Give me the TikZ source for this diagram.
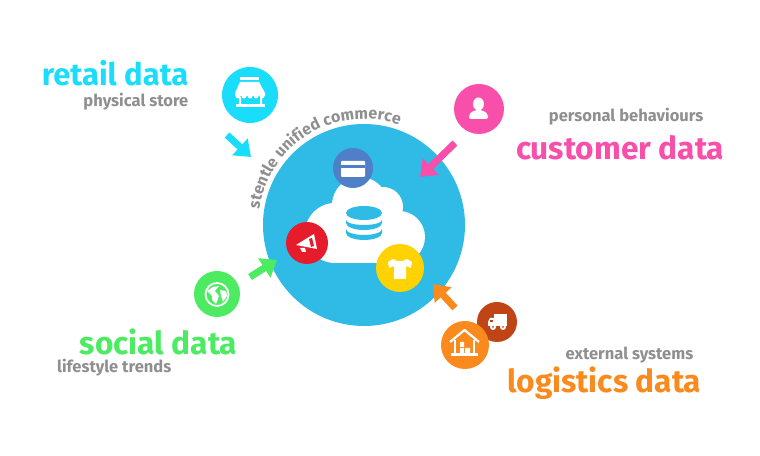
\documentclass[tikz,border=0pt]{standalone}
\usepackage{fontspec}
\setmainfont{Fira Sans}
\usetikzlibrary{arrows.meta, decorations.text}
\definecolor{hubblue}{HTML}{2FBBE6}
\definecolor{retailcyan}{HTML}{1ADDFB}
\definecolor{custpink}{HTML}{F84FAB}
\definecolor{socialgreen}{HTML}{4CEB62}
\definecolor{logiorange}{HTML}{FA8A1E}
\definecolor{truckbrown}{HTML}{BF4516}
\definecolor{cardblue}{HTML}{4F7FC6}
\definecolor{megared}{HTML}{E61B2B}
\definecolor{shirtyellow}{HTML}{FFD200}
\definecolor{labelgray}{HTML}{8F8F8F}
\tikzset{
disc/.style={circle, inner sep=0pt, minimum size=#1*0.01cm}, % round icon, size in reference pixels
bigtitle/.style={font=\fontsize{9}{10}\selectfont\bfseries, inner sep=0pt}, % coloured headings
subtitle/.style={font=\fontsize{4.7}{5}\selectfont\bfseries, text=labelgray, inner sep=0pt}, % small gray lines
inflow/.style={-{Triangle[length=0.15cm, width=0.22cm]}, line width=0.07cm, draw=#1}, % fat arrows
}

\begin{document}
\begin{tikzpicture}[x=0.01cm, y=-0.01cm]
\useasboundingbox (0,0) rectangle (760,456);

\node[disc=202, fill=hubblue] at (364,225) (hub) {};

% cloud
\fill[white] (335,233) circle[radius=30] (360,205) circle[radius=28] (383,207) circle[radius=20] (399,237) circle[radius=26];
\fill[white] (335,222) rectangle (399,263);

% database
\fill[hubblue] (364,213) ellipse[x radius=18, y radius=7];
\fill[hubblue] (346,220) arc[start angle=180, end angle=0, x radius=18, y radius=5] -- (382,223) arc[start angle=0, end angle=180, x radius=18, y radius=7] -- cycle;
\fill[hubblue] (346,229) arc[start angle=180, end angle=0, x radius=18, y radius=6] -- (382,233) arc[start angle=0, end angle=180, x radius=18, y radius=7] -- cycle;

% curved label
\path[decorate, decoration={text along path, text align=center, text={|\fontsize{4.55}{5}\selectfont\bfseries\color{labelgray}|stentle unified commerce}}]
(364,225) ++(-171:106) arc[start angle=-171, end angle=-71, radius=106];

\node[disc=40, fill=cardblue] at (353,168) (card) {};
\node[disc=42, fill=megared] at (307,243) (mega) {};
\node[disc=48, fill=shirtyellow] at (400,268) (shirt) {};
\node[disc=56, fill=retailcyan] at (250,95) (store) {};
\node[disc=50, fill=custpink] at (479,109) (person) {};
\node[disc=46, fill=socialgreen] at (217,294) (globe) {};
\node[disc=40, fill=truckbrown] at (497,322) (truck) {};
\node[disc=48, fill=logiorange] at (465,345) (house) {};

% card icon
\fill[white, rounded corners=0.01cm] (341,161) rectangle (365,177);
\fill[cardblue] (341,165) rectangle (365,168);

% megaphone icon
\fill[white] (296,245) -- (314,234) -- (317,249) -- cycle;
\fill[megared] (309,239) -- (312,238) -- (314,246) -- (311,247) -- cycle;
\fill[white] (300,248) -- (305,248) -- (306,252) -- (302,252) -- cycle;

% shirt icon
\fill[white] (393,259) -- (388,262) -- (389,268) -- (394,266) -- (394,279) -- (406,279) -- (406,266) -- (411,268) -- (412,262) -- (407,259) -- (403,261) -- (397,261) -- cycle;

% store icon
\fill[white] (240,77) rectangle (259,80);
\fill[white] (240,82) -- (259,82) -- (265,93) -- (265,96) -- (235,96) -- (235,93) -- cycle;
\fill[white] (238,96) circle[radius=2.5] (244,96) circle[radius=2.5] (250,96) circle[radius=2.5] (256,96) circle[radius=2.5] (262,96) circle[radius=2.5];
\fill[white] (239,97) rectangle (241,105) (260,97) rectangle (262,105);
\fill[white] (236,104) rectangle (265,107);

% person icon
\fill[white] (478.5,104) ellipse[x radius=5.5, y radius=6.5];
\fill[white, rounded corners=0.02cm] (469,119) -- (469,114) -- (475,110) -- (482,110) -- (488,114) -- (488,119) -- cycle;

% globe icon
\draw[white, line width=0.018cm] (217,294.5) circle[radius=11.5];
\fill[white] (207,291) -- (213,287) -- (219,286) -- (215,291) -- (219,296) -- (216,304) -- (212,300) -- (212,296) -- cycle;
\fill[white] (220,290) -- (226,291) -- (227,296) -- (223,302) -- (221,296) -- cycle;

% truck icon
\fill[white] (494,314) rectangle (507,326);
\fill[white] (494,318) -- (490,318) -- (488,322) -- (488,326) -- (494,326) -- cycle;
\fill[truckbrown] (490,320) rectangle (492.5,322);
\fill[white] (493,327) circle[radius=3] (503,327) circle[radius=3];
\fill[truckbrown] (493,327) circle[radius=1] (503,327) circle[radius=1];

% house icon
\draw[white, line width=0.022cm, line join=round] (450,342) -- (464.5,330) -- (479,342);
\draw[white, line width=0.016cm] (455,340) -- (455,354) (474,340) -- (474,354);
\fill[white] (451,353) rectangle (478,356);
\fill[white] (460,342) rectangle (464,347) (460,348) rectangle (464,353) (465,348) rectangle (470,353);

% arrows
\coordinate (retailtail) at (227,135);
\coordinate (retailhead) at (251,157);
\coordinate (custtail) at (455,143);
\coordinate (custhead) at (420,177);
\coordinate (socialtail) at (250,277);
\coordinate (socialhead) at (277,260);
\coordinate (logitail) at (455,308);
\coordinate (logihead) at (433,284);
\draw[inflow=retailcyan] (retailtail) -- (retailhead);
\draw[inflow=custpink] (custtail) -- (custhead);
\draw[inflow=socialgreen] (socialtail) -- (socialhead);
\draw[inflow=logiorange] (logitail) -- (logihead);

% labels
\node[bigtitle, font=\fontsize{8.8}{10}\selectfont\bfseries, text=retailcyan, anchor=east] at (189,73) (retail) {retail data};
\node[subtitle, anchor=east] at (189,102) (retailsub) {physical store};
\node[subtitle, anchor=east] at (704,117) (custsub) {personal behaviours};
\node[bigtitle, text=custpink, anchor=east] at (725,148) (cust) {customer data};
\node[bigtitle, text=socialgreen, anchor=east] at (238,342) (social) {social data};
\node[subtitle, anchor=east] at (172,368) (socialsub) {lifestyle trends};
\node[subtitle, anchor=east] at (694,355) (logisub) {external systems};
\node[bigtitle, text=logiorange, anchor=east] at (702,383) (logi) {logistics data};

\end{tikzpicture}
\end{document}
